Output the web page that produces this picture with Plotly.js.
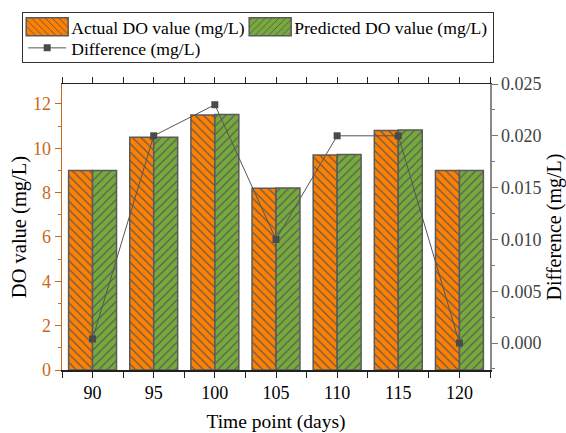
<!DOCTYPE html>
<html>
<head>
<meta charset="utf-8">
<script src="https://cdn.plot.ly/plotly-3.0.1.min.js"></script>
<style>body{margin:0;padding:0;background:#fff;} #chart{width:566px;height:433px;}</style>
</head>
<body>
<div id="chart"></div>
<script>
var timePoints = [90, 95, 100, 105, 110, 115, 120];
var actualDO = [9.0, 10.5, 11.5, 8.2, 9.7, 10.8, 9.0];
var predictedDO = [9.0, 10.5, 11.52, 8.21, 9.72, 10.82, 9.0];
var difference = [0.0004, 0.020, 0.023, 0.010, 0.020, 0.020, 0.000];
var xTickLabels = ['90', '95', '100', '105', '110', '115', '120'];

var serif = 'Liberation Serif';
var orangeAxis = '#c8691c';
var barW = 1.96;

var traces = [
  {
    type: 'bar', name: 'Actual DO value (mg/L)', x: timePoints, y: actualDO,
    width: barW, offset: -barW,
    marker: {color: '#ff8000', line: {color: '#5a5a5a', width: 1.5},
      pattern: {shape: '\\', fillmode: 'replace', bgcolor: '#ff8000', fgcolor: '#5a5a5a', size: 6, solidity: 0.2}},
    hoverinfo: 'none'
  },
  {
    type: 'bar', name: 'Predicted DO value (mg/L)', x: timePoints, y: predictedDO,
    width: barW, offset: 0,
    marker: {color: '#76ab3c', line: {color: '#5a5a5a', width: 1.5},
      pattern: {shape: '/', fillmode: 'replace', bgcolor: '#76ab3c', fgcolor: '#5a5a5a', size: 6, solidity: 0.2}},
    hoverinfo: 'none'
  },
  {
    type: 'scatter', mode: 'lines+markers', name: 'Difference (mg/L)', x: timePoints, y: difference,
    yaxis: 'y2',
    line: {color: '#555555', width: 1},
    marker: {symbol: 'square', size: 7, color: '#4a4a4a'},
    hoverinfo: 'none'
  }
];

var layout = {
  width: 566, height: 433,
  margin: {l: 62, r: 76, t: 84, b: 63, pad: 0},
  paper_bgcolor: '#fff', plot_bgcolor: '#fff',
  font: {family: serif, size: 17, color: '#000'},
  barmode: 'overlay',
  showlegend: true,
  legend: {
    orientation: 'h', x: -0.093, xanchor: 'left', y: 1.252, yanchor: 'top',
    bordercolor: '#333', borderwidth: 1, bgcolor: '#fff',
    font: {family: serif, size: 17.6, color: '#000'},
    entrywidth: 170, entrywidthmode: 'pixels', itemwidth: 38,
    traceorder: 'normal', tracegroupgap: 0
  },
  xaxis: {
    range: [87.5, 122.5], tickvals: timePoints, ticktext: xTickLabels,
    ticks: 'outside', ticklen: 6, tickwidth: 1, tickcolor: '#222',
    showline: true, linecolor: '#222', linewidth: 1.5, mirror: 'allticks',
    minor: {tick0: 87.5, dtick: 5, ticks: 'outside', ticklen: 3, tickcolor: '#222'},
    showgrid: false, zeroline: false,
    tickfont: {family: serif, size: 18, color: '#000'},
    title: {text: 'Time point (days)', font: {family: serif, size: 19.5, color: '#000'}, standoff: 17}
  },
  yaxis: {
    range: [0, 12.9], dtick: 2, tick0: 0,
    ticks: 'outside', ticklen: 6, tickwidth: 1, tickcolor: orangeAxis,
    showline: true, linecolor: orangeAxis, linewidth: 1.5,
    minor: {dtick: 1, ticks: 'outside', ticklen: 3, tickcolor: orangeAxis},
    showgrid: false, zeroline: false,
    tickfont: {family: serif, size: 18, color: orangeAxis},
    title: {text: 'DO value (mg/L)', font: {family: serif, size: 20.5, color: '#000'}, standoff: 0}
  },
  yaxis2: {
    overlaying: 'y', side: 'right',
    range: [-0.0026, 0.025], dtick: 0.005, tick0: 0, tickformat: '.3f',
    ticks: 'outside', ticklen: 6, tickwidth: 1, tickcolor: '#777',
    showline: true, linecolor: '#888', linewidth: 1.5,
    minor: {dtick: 0.0025, ticks: 'outside', ticklen: 3, tickcolor: '#777'},
    showgrid: false, zeroline: false,
    tickfont: {family: serif, size: 18, color: '#444'},
    title: {text: 'Difference (mg/L)', font: {family: serif, size: 20, color: '#000'}, standoff: 8}
  }
};

Plotly.newPlot('chart', traces, layout, {staticPlot: true, displayModeBar: false}).then(function (gd) {
  // widen the bar swatches in the legend to match the reference's rectangular keys
  gd.querySelectorAll('.legend .legendpoints path.legendundefined, .legend .legendbar path')
    .forEach(function (p) { p.setAttribute('d', 'M21,9H-21V-9H21Z'); });
  // tighten the legend rows to the reference's spacing
  var items = gd.querySelectorAll('.legend g.traces');
  var ys = [];
  items.forEach(function (g) {
    var m = /translate\(([-\d.]+),\s*([-\d.]+)\)/.exec(g.getAttribute('transform') || '');
    ys.push(m ? [parseFloat(m[1]), parseFloat(m[2])] : [0, 0]);
  });
  if (ys.length === 3) {
    var y0 = ys[0][1] - 4;
    items.forEach(function (g, i) {
      var row = ys[i][1] > ys[0][1] + 1 ? 1 : 0;
      g.setAttribute('transform', 'translate(' + ys[i][0] + ',' + (y0 + row * 21) + ')');
    });
  }
  // legend frame (and its clip region) sized as in the reference
  gd.querySelectorAll('.legend rect.bg').forEach(function (r) { r.setAttribute('width', 471); r.setAttribute('height', 50); });
  document.querySelectorAll('clipPath[id^="legend"] rect').forEach(function (r) { r.setAttribute('width', 471); r.setAttribute('height', 50); });
});
</script>
</body>
</html>
